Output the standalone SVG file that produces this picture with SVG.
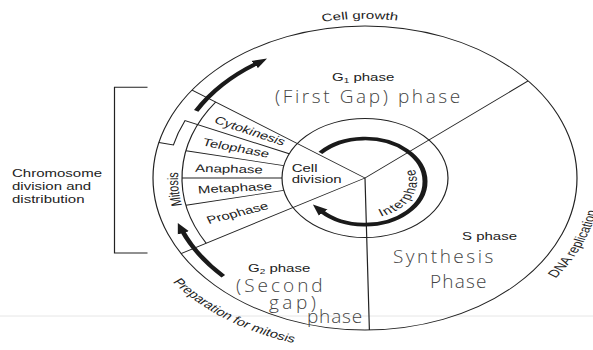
<svg xmlns="http://www.w3.org/2000/svg" width="593" height="350" viewBox="0 0 593 350">
<style>
 .ln{fill:none;stroke:#222;stroke-width:1.2}
 .thick{fill:none;stroke:#1a1a1a;stroke-width:5}
 .lbl{font-family:'Liberation Sans',Arial,sans-serif;font-size:15px;fill:#222}
 .hw{font-family:'Open Sans','DejaVu Sans',sans-serif;font-weight:300;font-size:19px;fill:#444}
</style>
<defs>
 <marker id="ah" markerUnits="userSpaceOnUse" markerWidth="16" markerHeight="14" refX="3" refY="7" orient="auto"><path d="M0,1 L15,7 L0,13 z" fill="#1a1a1a"/></marker>
 <path id="pGrowth" d="M249.7 -11.7 A222 222 0 0 1 471.6 -16.7"/>
 <path id="pDNA" d="M555.5 318.0 A236 236 0 0 0 586.8 97.3"/>
 <path id="pPrep" d="M172.5 323.0 A241 241 0 0 0 386.0 418.1"/>
 <path id="pMit" d="M211.3 284.5 A187 187 0 0 1 195.9 98.1"/>
 <path id="pInter" d="M374.0 233.2 A52 52 0 0 0 404.8 148.6"/>
</defs>
<rect width="593" height="350" fill="#fff"/>
<line x1="0" y1="316" x2="593" y2="316" stroke="#e6e6e6" stroke-width="1"/>
<g transform="matrix(1 0 0 0.717 0 50.374)">
 <g id="connectors">
  <circle class="ln" cx="365" cy="178" r="212"/>
  <circle class="ln" cx="365" cy="178" r="83"/>
  <path class="ln" d="M365 178 L192.1 55.4 M365 178 L181 283.4 M365 178 L528.1 42.6 M365 178 L369.4 390"/>
  <path class="ln" d="M215.7 72.1 A183 183 0 0 0 206.2 268.9"/>
  <path class="ln" d="M289.2 144.2 L185 97.9 A197 197 0 0 0 173.4 132 L158.9 128.5"/>
  <path class="ln" d="M283.8 160.7 L186 140 M282 178 L182 178 M283.8 195.3 L186 216"/>
  <path class="thick" d="M196.2 84.4 A193 193 0 0 1 257.1 18" marker-end="url(#ah)"/>
  <path class="thick" d="M223.3 314.9 A197 197 0 0 1 182.3 251.8" marker-end="url(#ah)"/>
  <path class="thick" d="M320.4 142.9 A60 60 0 1 1 321.1 223.9" marker-end="url(#ah)"/>
 </g>
 <g id="bracket">
  <path class="ln" d="M147.5 51.5 H114.5 V282.6 H147.5"/>
  <text class="lbl" x="12" y="176.2">Chromosome</text>
  <text class="lbl" x="12" y="194.7">division and</text>
  <text class="lbl" x="12" y="212.9">distribution</text>
 </g>
 <g id="g1-phase">
  <text class="lbl" x="332" y="42.7">G<tspan font-size="10" dy="3">1</tspan><tspan dy="-3"> phase</tspan></text>
  <text class="lbl"><textPath href="#pGrowth" startOffset="50%" text-anchor="middle">Cell growth</textPath></text>
 </g>
 <g id="s-phase">
  <text class="lbl" x="462" y="264.5">S phase</text>
  <text class="lbl"><textPath href="#pDNA" startOffset="0">DNA replication</textPath></text>
 </g>
 <g id="g2-phase">
  <text class="lbl" x="248" y="309.1">G<tspan font-size="10" dy="3">2</tspan><tspan dy="-3"> phase</tspan></text>
  <text class="lbl"><textPath href="#pPrep" startOffset="0">Preparation for mitosis</textPath></text>
 </g>
 <g id="mitosis">
  <text class="lbl"><textPath href="#pMit" startOffset="50%" text-anchor="middle">Mitosis</textPath></text>
 </g>
 <g id="cytokinesis"><text class="lbl" text-anchor="middle" y="5" transform="translate(250,112.4) rotate(25)">Cytokinesis</text></g>
 <g id="telophase"><text class="lbl" text-anchor="middle" y="5" transform="translate(236,136.2) rotate(14.5)">Telophase</text></g>
 <g id="anaphase"><text class="lbl" text-anchor="middle" y="5" transform="translate(229,165.4) rotate(2)">Anaphase</text></g>
 <g id="metaphase"><text class="lbl" text-anchor="middle" y="5" transform="translate(235,191.9) rotate(-4)">Metaphase</text></g>
 <g id="prophase"><text class="lbl" text-anchor="middle" y="5" transform="translate(237.5,226.8) rotate(-19)">Prophase</text></g>
 <g id="cell-division">
  <text class="lbl" x="291.7" y="169.2">Cell</text>
  <text class="lbl" x="291.7" y="185.4">division</text>
 </g>
 <g id="interphase">
  <text class="lbl" letter-spacing="1.2"><textPath href="#pInter" startOffset="7">Interphase</textPath></text>
 </g>
</g>
<g id="handwriting">
 <text class="hw" x="275" y="103" font-size="20" letter-spacing="2.6">(First Gap) phase</text>
 <text class="hw" x="236" y="292" font-size="17" letter-spacing="3">(Second</text>
 <text class="hw" x="269" y="309" font-size="17" letter-spacing="3.5">gap)</text>
 <text class="hw" x="307" y="323" font-size="17" letter-spacing="0.8">phase</text>
 <text class="hw" x="393" y="263" font-size="20" letter-spacing="2.5">Synthesis</text>
 <text class="hw" x="430" y="288" font-size="20" letter-spacing="1.2">Phase</text>
</g>
</svg>
